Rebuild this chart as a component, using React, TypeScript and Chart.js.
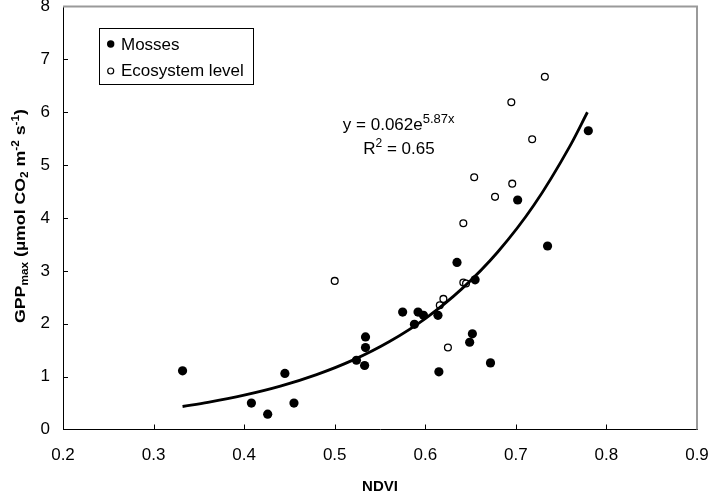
import React, { useEffect, useRef } from "react";
import { Chart, registerables } from "chart.js";
Chart.register(...registerables);

// Mosses (filled circles)
const mossNdvi = [0.332, 0.408, 0.426, 0.445, 0.455, 0.524, 0.534, 0.534, 0.533, 0.575, 0.588, 0.592, 0.598, 0.614, 0.615, 0.635, 0.649, 0.652, 0.655, 0.672, 0.702, 0.735, 0.780];
const mossGpp = [1.11, 0.50, 0.29, 1.06, 0.50, 1.31, 1.75, 1.55, 1.21, 2.22, 1.99, 2.22, 2.16, 2.16, 1.09, 3.16, 1.65, 1.81, 2.83, 1.26, 4.34, 3.47, 5.65];

// Ecosystem level (open circles)
const ecoNdvi = [0.500, 0.616, 0.620, 0.625, 0.642, 0.645, 0.642, 0.654, 0.677, 0.696, 0.718, 0.695, 0.732];
const ecoGpp = [2.81, 2.35, 2.47, 1.55, 2.78, 2.76, 3.90, 4.77, 4.40, 4.65, 5.49, 6.19, 6.67];

// Exponential trend line
const fitNdvi = [0.332, 0.36, 0.40, 0.44, 0.48, 0.52, 0.56, 0.60, 0.64, 0.68, 0.72, 0.76, 0.779];
const fitGpp = [0.435, 0.513, 0.649, 0.820, 1.038, 1.312, 1.660, 2.099, 2.655, 3.357, 4.245, 5.37, 6.00];

const xTicks = [0.2, 0.3, 0.4, 0.5, 0.6, 0.7, 0.8, 0.9];
const yTicks = [0, 1, 2, 3, 4, 5, 6, 7, 8];

const legendLabels = ["Mosses", "Ecosystem level"];
const equationText = { base: "y = 0.062e", exp: "5.87x", r2: "0.65" };

const FONT = "'Liberation Sans', Arial, sans-serif";

type Part = { t: string; size: number; shift: number };

function drawParts(ctx: CanvasRenderingContext2D, parts: Part[], x: number, y: number, bold: boolean) {
  let cx = x;
  for (const p of parts) {
    ctx.font = `${bold ? "bold " : ""}${p.size}px ${FONT}`;
    ctx.fillText(p.t, cx, y + p.shift);
    cx += ctx.measureText(p.t).width;
  }
}
function partsWidth(ctx: CanvasRenderingContext2D, parts: Part[], bold: boolean) {
  let w = 0;
  for (const p of parts) {
    ctx.font = `${bold ? "bold " : ""}${p.size}px ${FONT}`;
    w += ctx.measureText(p.t).width;
  }
  return w;
}

const decorPlugin = {
  id: "decor",
  afterDraw(chart: any) {
    const ctx: CanvasRenderingContext2D = chart.ctx;
    const { left, right, top, bottom } = chart.chartArea;
    const xs = chart.scales.x;
    const ys = chart.scales.y;
    ctx.save();
    // top & right frame
    ctx.strokeStyle = "#9a9a9a";
    ctx.lineWidth = 2;
    ctx.beginPath();
    ctx.moveTo(left, top);
    ctx.lineTo(right, top);
    ctx.lineTo(right, bottom);
    ctx.stroke();

    // inward ticks
    ctx.strokeStyle = "#000";
    ctx.lineWidth = 1;
    ctx.beginPath();
    for (const v of xTicks) {
      const px = Math.round(xs.getPixelForValue(v)) + 0.5;
      if (px <= left + 1 || px >= right - 1) continue;
      ctx.moveTo(px, bottom);
      ctx.lineTo(px, bottom - 5);
    }
    for (const v of yTicks) {
      const py = Math.round(ys.getPixelForValue(v)) + 0.5;
      if (py <= top + 1 || py >= bottom - 1) continue;
      ctx.moveTo(left, py);
      ctx.lineTo(left + 5, py);
    }
    ctx.stroke();

    // legend
    ctx.lineWidth = 1;
    ctx.strokeStyle = "#000";
    ctx.strokeRect(99.5, 28.5, 154, 56);
    ctx.fillStyle = "#000";
    ctx.beginPath();
    ctx.arc(110.7, 44, 3.7, 0, Math.PI * 2);
    ctx.fill();
    ctx.beginPath();
    ctx.arc(110.7, 71, 3, 0, Math.PI * 2);
    ctx.fillStyle = "#fff";
    ctx.fill();
    ctx.lineWidth = 1.2;
    ctx.stroke();
    ctx.fillStyle = "#000";
    ctx.font = `17px ${FONT}`;
    ctx.textAlign = "left";
    ctx.textBaseline = "alphabetic";
    ctx.fillText(legendLabels[0], 121, 49.5);
    ctx.fillText(legendLabels[1], 121, 76);

    // equation
    const eq1: Part[] = [
      { t: equationText.base, size: 17, shift: 0 },
      { t: equationText.exp, size: 13, shift: -7 },
    ];
    const eq2: Part[] = [
      { t: "R", size: 17, shift: 0 },
      { t: "2", size: 12, shift: -7 },
      { t: " = " + equationText.r2, size: 17, shift: 0 },
    ];
    const w1 = partsWidth(ctx, eq1, false);
    drawParts(ctx, eq1, 398.7 - w1 / 2, 130, false);
    const w2 = partsWidth(ctx, eq2, false);
    drawParts(ctx, eq2, 399 - w2 / 2, 154, false);

    // x title
    ctx.font = `bold 15px ${FONT}`;
    ctx.textAlign = "center";
    ctx.fillText("NDVI", (left + right) / 2, 491);

    // y title
    const yt: Part[] = [
      { t: "GPP", size: 15, shift: 0 },
      { t: "max", size: 10, shift: 3 },
      { t: " (µmol CO", size: 15, shift: 0 },
      { t: "2", size: 10, shift: 3 },
      { t: " m", size: 15, shift: 0 },
      { t: "-2", size: 10, shift: -6 },
      { t: " s", size: 15, shift: 0 },
      { t: "-1", size: 10, shift: -6 },
      { t: ")", size: 15, shift: 0 },
    ];
    ctx.textAlign = "left";
    const wy = partsWidth(ctx, yt, true);
    const target = 214;
    ctx.save();
    ctx.translate(25, 216);
    ctx.rotate(-Math.PI / 2);
    ctx.scale(target / wy, 1);
    drawParts(ctx, yt, -wy / 2, 0, true);
    ctx.restore();

    ctx.restore();
  },
};

export default function App() {
  const ref = useRef<HTMLCanvasElement>(null);
  useEffect(() => {
    if (!ref.current) return;
    const chart = new Chart(ref.current, {
      type: "scatter",
      data: {
        datasets: [
          {
            label: "fit",
            data: fitNdvi.map((x, i) => ({ x, y: fitGpp[i] })),
            showLine: true,
            borderColor: "#000",
            borderWidth: 2.8,
            pointRadius: 0,
            cubicInterpolationMode: "monotone",
            fill: false,
          } as any,
          {
            label: legendLabels[0],
            data: mossNdvi.map((x, i) => ({ x, y: mossGpp[i] })),
            pointRadius: 4.6,
            pointBackgroundColor: "#000",
            pointBorderWidth: 0,
            borderColor: "#000",
          },
          {
            label: legendLabels[1],
            data: ecoNdvi.map((x, i) => ({ x, y: ecoGpp[i] })),
            pointRadius: 3.4,
            pointBackgroundColor: "#fff",
            pointBorderColor: "#000",
            pointBorderWidth: 1.3,
          },
        ],
      },
      options: {
        animation: false,
        responsive: true,
        maintainAspectRatio: false,
        layout: { padding: { top: 6.5, right: 15, left: 0, bottom: 0 } },
        plugins: {
          legend: { display: false },
          tooltip: { enabled: false },
        },
        scales: {
          x: {
            type: "linear",
            min: 0.2,
            max: 0.9,
            afterBuildTicks: (s: any) => {
              s.ticks = xTicks.map((v) => ({ value: v }));
            },
            ticks: {
              callback: (v: any) => Number(v).toFixed(1),
              color: "#000",
              font: { family: FONT, size: 17 },
              padding: 16,
              maxRotation: 0,
              autoSkip: false,
            },
            grid: { display: false, drawTicks: false },
            border: { display: true, color: "#000", width: 1 },
            afterFit: (s: any) => {
              s.height = 65.5;
              s.paddingLeft = 0;
              s.paddingRight = 0;
            },
          },
          y: {
            type: "linear",
            min: 0,
            max: 8,
            afterBuildTicks: (s: any) => {
              s.ticks = yTicks.map((v) => ({ value: v }));
            },
            ticks: {
              color: "#000",
              font: { family: FONT, size: 17 },
              padding: 13,
              autoSkip: false,
            },
            grid: { display: false, drawTicks: false },
            border: { display: true, color: "#000", width: 1 },
            afterFit: (s: any) => {
              s.width = 63;
              s.paddingTop = 0;
              s.paddingBottom = 0;
            },
          },
        },
      },
      plugins: [decorPlugin],
    });
    return () => chart.destroy();
  }, []);
  return (
    <div style={{ position: "fixed", left: 0, top: 0, width: 712, height: 495, background: "#fff" }}>
      <canvas ref={ref} />
    </div>
  );
}
